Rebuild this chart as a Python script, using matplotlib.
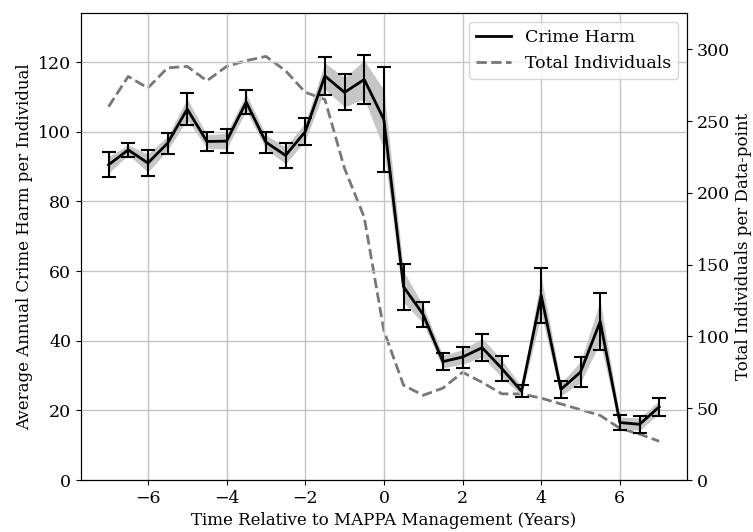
import matplotlib.pyplot as plt
from matplotlib.lines import Line2D

plt.rcParams['font.family'] = 'DejaVu Serif'

#--------data--------------
years = [-7, -6.5, -6, -5.5, -5, -4.5, -4, -3.5, -3, -2.5, -2, -1.5, -1, -0.5,
         0, 0.5, 1, 1.5, 2, 2.5, 3, 3.5, 4, 4.5, 5, 5.5, 6, 6.5, 7]
crime_harm = [90.5, 94.8, 91.0, 96.7, 106.5, 97.2, 97.3, 108.5, 97.0, 93.2,
              100.0, 116.0, 111.3, 115.0, 103.5, 55.5, 47.5, 34.0, 35.3, 38.0,
              32.0, 25.5, 53.0, 26.0, 31.0, 45.5, 16.5, 16.0, 21.0]
harm_err = [3.6, 2.0, 3.7, 3.0, 4.5, 2.8, 3.4, 3.5, 3.0, 3.6, 3.8, 5.4, 5.2, 7.0,
            15.0, 6.6, 3.6, 2.5, 3.0, 3.8, 3.5, 1.8, 8.0, 2.4, 4.3, 8.3, 2.2, 2.5, 2.6]
harm_band = [2.4, 1.4, 2.6, 2.0, 3.0, 1.9, 2.3, 2.4, 2.0, 2.4, 2.6, 3.8, 4.2, 5.5,
             8.5, 4.5, 2.5, 1.8, 2.1, 2.7, 2.5, 1.3, 5.5, 1.8, 3.0, 6.0, 1.6, 1.8, 1.8]
total_individuals = [260, 281, 273, 287, 288, 278, 288, 292, 295, 285, 270, 265,
                     217, 183, 104, 66, 59, 64, 75, 68, 60, 60, 57, 53, 49, 45,
                     36, 32, 27]

band_lo = [m - b for m, b in zip(crime_harm, harm_band)]
band_hi = [m + b for m, b in zip(crime_harm, harm_band)]

fig, ax = plt.subplots(figsize=(7.53, 5.32), dpi=100)
fig.subplots_adjust(left=0.1076, right=0.912, top=0.975, bottom=0.0977)
ax2 = ax.twinx()

# keep crime harm drawn above the individuals line
ax.set_zorder(ax2.get_zorder() + 1)
ax.patch.set_visible(False)

ax.fill_between(years, band_lo, band_hi, color='#c6c6c6', linewidth=0)
ax.errorbar(years, crime_harm, yerr=harm_err, color='black', linewidth=2,
            elinewidth=1.5, capsize=5, capthick=1.5)
ax2.plot(years, total_individuals, color='#777777', linestyle='--', linewidth=2)

ax.set_ylim(0, 134)
ax2.set_ylim(0, 325)
ax.set_xlim(-7.7, 7.7)
ax.set_xticks([-6, -4, -2, 0, 2, 4, 6])
ax.grid(True, color='#c4c4c4', linewidth=1)

ax.set_xlabel('Time Relative to MAPPA Management (Years)', fontsize=12)
ax.set_ylabel('Average Annual Crime Harm per Individual', fontsize=12)
ax2.set_ylabel('Total Individuals per Data-point', fontsize=12)
ax.tick_params(axis='both', labelsize=12.5)
ax2.tick_params(axis='y', labelsize=12.5)

handles = [Line2D([], [], color='black', linewidth=2),
           Line2D([], [], color='#777777', linestyle='--', linewidth=2)]
ax.legend(handles, ['Crime Harm', 'Total Individuals'], loc='upper right',
          fontsize=12.5)

fig.savefig('out.png')
